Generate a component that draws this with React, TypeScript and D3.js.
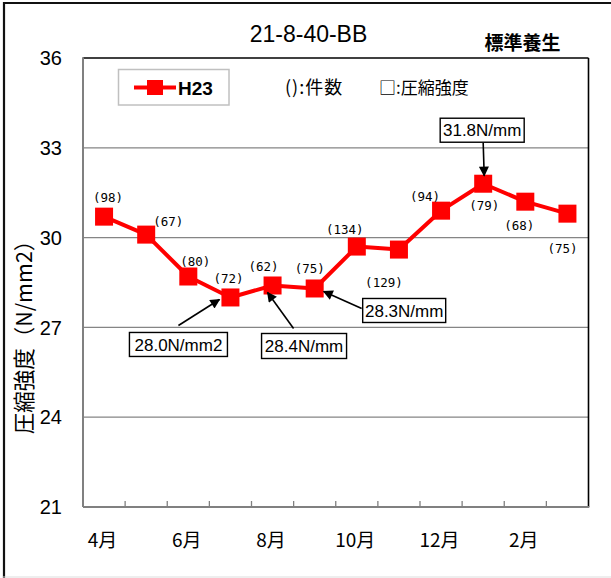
import React from "react";
import * as d3 from "d3";

// ---- data ----
const categories = ["4月", "5月", "6月", "7月", "8月", "9月", "10月", "11月", "12月", "1月", "2月", "3月"];
const xTickLabels = ["4月", "6月", "8月", "10月", "12月", "2月"];
const strengthH23 = [30.7, 30.1, 28.7, 28.0, 28.4, 28.3, 29.7, 29.6, 30.9, 31.8, 31.2, 30.8];
const countsH23 = [98, 67, 80, 72, 62, 75, 134, 129, 94, 79, 68, 75];
const yTicks = [21, 24, 27, 30, 33, 36];
const annotationIndex = [3, 4, 5, 9];
const annotationText = ["28.0N/mm2", "28.4N/mm", "28.3N/mm", "31.8N/mm"];
const seriesName = "H23";
const chartTitle = "21-8-40-BB";
const cornerLabel = "標準養生";
const noteCount = "():件数";
const noteStrength = "□:圧縮強度";
const yAxisTitle = "圧縮強度（N/mm2）";

// ---- layout (offsets relative to markers) ----
const countLabelOffset: [number, number][] = [
  [4, -19], [22, -13], [7, -15], [-2, -19], [-9, -19], [-5, -20],
  [-12, -17], [-15, 33], [-16, -14], [1, 22], [-6, 24], [-5, 35],
];
const annotationLayout = [
  { box: [-52, 47], w: 98, h: 24, tail: [-52, 28], tip: [-11, 2] },
  { box: [31.5, 60.5], w: 85, h: 25, tail: [21, 43], tip: [-5, 7] },
  { box: [89.5, 22], w: 83, h: 24, tail: [47, 20], tip: [9, 3] },
  { box: [-1, -53.5], w: 84, h: 24, tail: [0, -41], tip: [1, -8] },
];

const W = 611;
const H = 578;
const plot = { left: 83, right: 588.5, top: 58, bottom: 507 };
const RED = "#ff0000";
const SANS = "'Liberation Sans', Arial, 'Noto Sans CJK JP', sans-serif";
const CJK = "'Noto Sans CJK JP', 'Liberation Sans', sans-serif";
const MONO = "'DejaVu Sans Mono', 'Liberation Mono', monospace";

export default function App() {
  const x = d3.scaleBand<string>().domain(categories).range([plot.left, plot.right]).paddingInner(0).paddingOuter(0);
  const y = d3.scaleLinear().domain([21, 36]).range([plot.bottom, plot.top]);
  const cx = (i: number) => (x(categories[i]) as number) + x.bandwidth() / 2;
  const cy = (i: number) => y(strengthH23[i]);
  const line = d3
    .line<number>()
    .x((_, i) => cx(i))
    .y((d) => y(d));
  const ms = 18;

  return (
    <svg
      width={W}
      height={H}
      style={{ position: "absolute", left: 0, top: 0, background: "#fff" }}
    >
      <defs>
        <marker
          id="arrow"
          viewBox="0 0 10 10"
          refX="9"
          refY="5"
          markerWidth="11"
          markerHeight="10"
          markerUnits="userSpaceOnUse"
          orient="auto"
        >
          <path d="M0,0 L10,5 L0,10 z" fill="#000" />
        </marker>
      </defs>
      <rect x={0} y={0} width={W} height={H} fill="#fff" />
      {/* outer frame */}
      <line x1={4} y1={2} x2={4} y2={H} stroke="#111" strokeWidth={2.2} />
      <line x1={3} y1={3} x2={W} y2={3} stroke="#111" strokeWidth={2.2} />
      <line x1={3} y1={577} x2={W} y2={577} stroke="#ddd" strokeWidth={1} />

      {/* title */}
      <text x={308.5} y={41.5} textAnchor="middle" fontFamily={SANS} fontSize={23} fill="#000">
        {chartTitle}
      </text>
      <text x={522.5} y={50} textAnchor="middle" fontFamily={CJK} fontSize={19} fontWeight={700} fill="#000">
        {cornerLabel}
      </text>

      {/* gridlines */}
      {yTicks.slice(1, -1).map((t) => (
        <line key={t} x1={plot.left} x2={plot.right} y1={y(t)} y2={y(t)} stroke="#858585" strokeWidth={1.3} />
      ))}
      {/* plot border top/right */}
      <line x1={plot.left} x2={plot.right} y1={plot.top} y2={plot.top} stroke="#000" strokeWidth={1.6} />
      <line x1={plot.right} x2={plot.right} y1={plot.top} y2={plot.bottom} stroke="#000" strokeWidth={1.6} />
      {/* axes */}
      <line x1={plot.left} x2={plot.left} y1={plot.top - 0.8} y2={plot.bottom} stroke="#808080" strokeWidth={2} />
      <line x1={plot.left} x2={plot.right + 0.8} y1={plot.bottom} y2={plot.bottom} stroke="#808080" strokeWidth={2} />
      {categories.slice(1).map((c) => (
        <line key={c} x1={x(c) as number} x2={x(c) as number} y1={plot.bottom} y2={plot.bottom - 6} stroke="#808080" strokeWidth={1.3} />
      ))}

      {/* y tick labels */}
      {yTicks.map((t) => (
        <text key={t} x={62} y={y(t)} dy="0.36em" textAnchor="end" fontFamily={SANS} fontSize={20} fill="#000">
          {t}
        </text>
      ))}
      {/* x tick labels */}
      {xTickLabels.map((m) => (
        <text
          key={m}
          x={(x(m) as number) + x.bandwidth() / 2 - 1.5}
          y={540}
          dy="0.36em"
          textAnchor="middle"
          fontFamily={CJK}
          fontSize={19}
          fill="#000"
        >
          {m}
        </text>
      ))}

      {/* y axis title */}
      <text
        transform={`translate(24,332) rotate(-90)`}
        textAnchor="middle"
        dy="0.36em"
        fontFamily={CJK}
        fontSize={21.5}
        fill="#000"
      >
        {yAxisTitle}
      </text>

      {/* legend */}
      <rect x={118.5} y={69.5} width={110.5} height={35.5} fill="#fff" stroke="#c0c0c0" strokeWidth={1.5} />
      <line x1={134} x2={176} y1={87.5} y2={87.5} stroke={RED} strokeWidth={4} />
      <rect x={147} y={80} width={16} height={15} fill={RED} />
      <text x={178} y={95} fontFamily={SANS} fontSize={19} fontWeight={700} fill="#000">
        {seriesName}
      </text>
      <text x={285} y={88} dy="0.36em" fontFamily={CJK} fontSize={18} fill="#000" letterSpacing={1}>
        {noteCount}
      </text>
      <text x={379} y={88} dy="0.36em" fontFamily={CJK} fontSize={17} fill="#000">
        {noteStrength}
      </text>

      {/* series line */}
      <path d={line(strengthH23) || ""} fill="none" stroke={RED} strokeWidth={4} strokeLinejoin="round" />
      {strengthH23.map((v, i) => (
        <rect key={i} x={cx(i) - ms / 2} y={y(v) - ms / 2} width={ms} height={ms} fill={RED} />
      ))}

      {/* count labels */}
      {countsH23.map((c, i) => (
        <text
          key={i}
          x={cx(i) + countLabelOffset[i][0]}
          y={cy(i) + countLabelOffset[i][1]}
          dy="0.36em"
          textAnchor="middle"
          fontFamily={MONO}
          fontSize={12.5}
          fill="#000"
        >
          {`(${c})`}
        </text>
      ))}

      {/* annotations */}
      {annotationIndex.map((idx, k) => {
        const L = annotationLayout[k];
        const mx = cx(idx);
        const my = cy(idx);
        const bx = mx + L.box[0];
        const by = my + L.box[1];
        return (
          <g key={k}>
            <line
              x1={mx + L.tail[0]}
              y1={my + L.tail[1]}
              x2={mx + L.tip[0]}
              y2={my + L.tip[1]}
              stroke="#000"
              strokeWidth={1.6}
              markerEnd="url(#arrow)"
            />
            <rect x={bx - L.w / 2} y={by - L.h / 2} width={L.w} height={L.h} fill="#fff" stroke="#000" strokeWidth={1.4} />
            <text x={bx} y={by} dy="0.36em" textAnchor="middle" fontFamily={SANS} fontSize={17} fill="#000">
              {annotationText[k]}
            </text>
          </g>
        );
      })}
    </svg>
  );
}
